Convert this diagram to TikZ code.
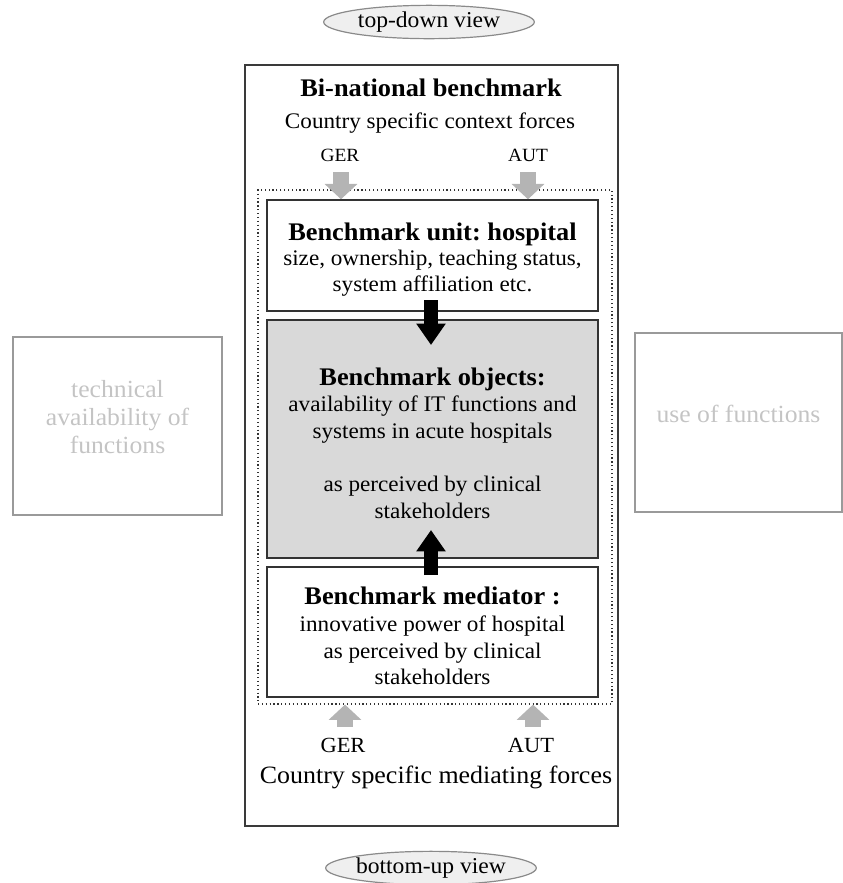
\documentclass[tikz,border=0pt]{standalone}
\usepackage{fontspec}
\setmainfont[FakeStretch=1.04]{Liberation Serif}
\usetikzlibrary{shapes.geometric,fit,arrows.meta}
\frenchspacing
\definecolor{boxline}{HTML}{333333}
\definecolor{outerline}{HTML}{3A3A3A}
\definecolor{objfill}{HTML}{D9D9D9}
\definecolor{forcegray}{HTML}{B4B4B4}
\definecolor{sideline}{HTML}{9A9A9A}
\definecolor{sidetext}{HTML}{C4C4C4}
\definecolor{ellfill}{HTML}{EFEFEF}
\definecolor{ellline}{HTML}{8A8A8A}
\tikzset{
  bodyfont/.style={font=\fontsize{16.7}{20}\selectfont},
  innerbox/.style={draw=boxline, line width=1.1pt, inner sep=0pt},
  boxtext/.style={align=center, bodyfont, yshift=-3pt},
  sidebox/.style={draw=sideline, line width=1.1pt, inner sep=0pt, align=center, text=sidetext, font=\fontsize{18.5}{21}\selectfont},
  viewell/.style={ellipse, draw=ellline, fill=ellfill, line width=0.9pt, inner sep=0pt, minimum width=158pt, minimum height=25pt},
  forcearrow/.style={draw=forcegray, line width=12pt, -{Triangle[width=24pt,length=11.5pt,fill=forcegray]}},
  mainarrow/.style={draw=black, line width=10.5pt, -{Triangle[width=21pt,length=16pt,fill=black]}},
  heading/.style={font=\bfseries\fontsize{19}{20}\selectfont}
}
\begin{document}
\begin{tikzpicture}[x=0.75pt,y=-0.75pt]
\useasboundingbox (0,0) rectangle (843,883);

% view ellipses
\node[viewell, label={[font=\fontsize{17}{18}\selectfont]center:top-down view}] (topview) at (429,22) {};
\node[viewell, label={[font=\fontsize{17}{18}\selectfont]center:bottom-up view}] (bottomview) at (431,868) {};

% outer box
\node[draw=outerline, line width=1.1pt, inner sep=0pt, fit={(245,65) (618,826)}] (outer) {};
% dotted box
\node[draw=boxline, dotted, line width=0.9pt, inner sep=0pt, fit={(258,190) (612,704)}] (dotbox) {};

% texts top
\node[heading] (title) at (431,88) {Bi-national benchmark};
\node[bodyfont] (context) at (430,123) {Country specific context forces};
\node[font=\fontsize{14}{15}\selectfont] (gertop) at (340,155) {GER};
\node[font=\fontsize{14}{15}\selectfont] (auttop) at (528,155) {AUT};

% inner boxes
\node[innerbox, fit={(267,200) (598,311)},
  label={[boxtext, font=\fontsize{16.7}{19.2}\selectfont]center:{{\bfseries\fontsize{19}{19}\selectfont Benchmark unit: hospital}\\size, ownership, teaching status,\\system affiliation etc.}}] (unit) {};
\node[innerbox, fill=objfill, fit={(267,320) (598,558)},
  label={[boxtext]center:{{\bfseries\fontsize{19}{20}\selectfont Benchmark objects:}\\availability of IT functions and\\systems in acute hospitals\\[20pt]as perceived by clinical\\stakeholders}}] (objects) {};
\node[innerbox, fit={(267,567) (598,697)},
  label={[boxtext]center:{{\bfseries\fontsize{19}{20}\selectfont Benchmark mediator :}\\innovative power of hospital\\as perceived by clinical\\stakeholders}}] (mediator) {};

% bottom texts
\node[font=\fontsize{16.2}{17}\selectfont] (gerbot) at (343,745) {GER};
\node[font=\fontsize{16.2}{17}\selectfont] (autbot) at (531,745) {AUT};
\node[font=\fontsize{18.7}{20}\selectfont] (mediating) at (436,777) {Country specific mediating forces};

% side boxes
\node[sidebox, fit={(13,337) (222,515)}] (techbox) {technical\\availability of\\functions};
\node[sidebox, fit={(635,333) (842,512)}] (usebox) {use of functions};

% gray force arrows
\coordinate (gt) at (341,172);
\coordinate (at) at (528,172);
\draw[forcearrow] (gt) -- (gt |- unit.north);
\draw[forcearrow] (at) -- (at |- unit.north);
\coordinate (gb) at (345,727);
\coordinate (ab) at (533,727);
\draw[forcearrow] (gb) -- (gb |- dotbox.south);
\draw[forcearrow] (ab) -- (ab |- dotbox.south);

% black arrows
\coordinate (ds) at (431,300);
\coordinate (de) at (431,345);
\coordinate (us) at (431,575);
\coordinate (ue) at (431,530);
\draw[mainarrow] (ds) -- (de);
\draw[mainarrow] (us) -- (ue);
\end{tikzpicture}
\end{document}
